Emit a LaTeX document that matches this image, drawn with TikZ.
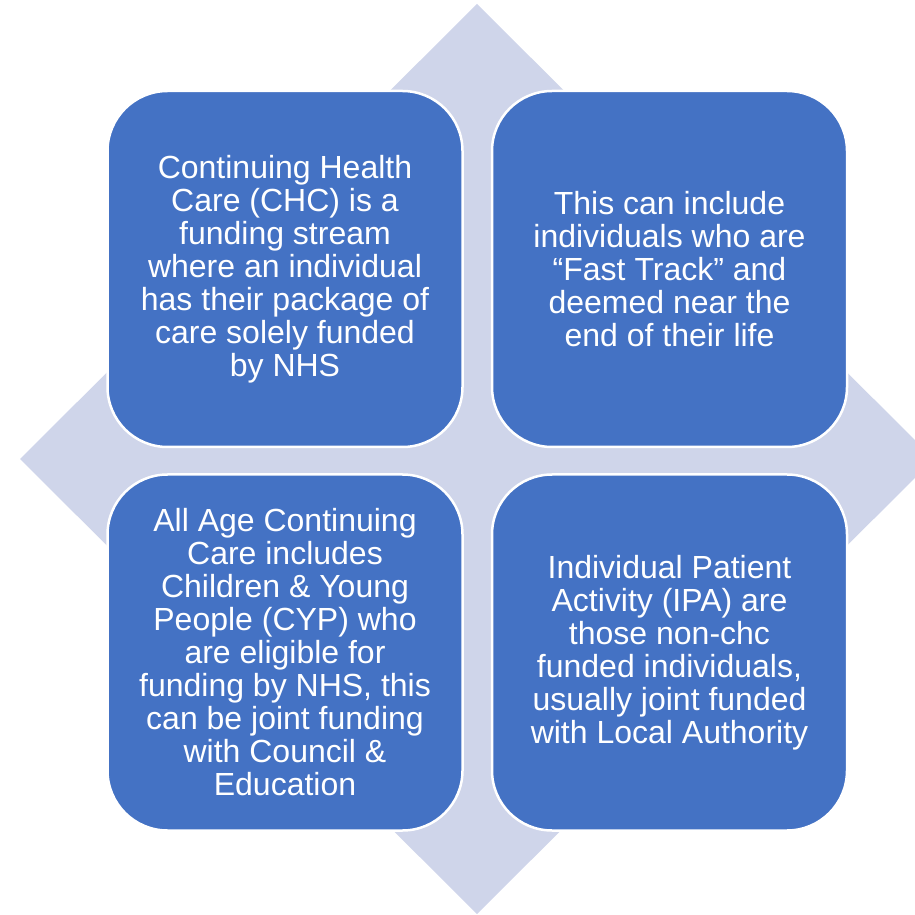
\documentclass[tikz,border=0pt]{standalone}
\usepackage{fontspec}
\setmainfont{Liberation Sans}
\usepackage{xcolor}
\definecolor{chcblue}{HTML}{4472C4}
\definecolor{chclilac}{HTML}{CFD5EA}

\begin{document}
\begin{tikzpicture}[x=1pt, y=1pt,
  card/.style = {rectangle, fill = chcblue, draw = white, line width = 2.5pt,
                 rounded corners = 60pt, minimum width = 355pt, minimum height = 356pt,
                 inner sep = 0pt, align = center, text = white,
                 font = \fontsize{32}{33}\selectfont}]
\clip (0,0) rectangle (915,914);
% background diamond
\fill[chclilac] (477,910) -- (934,455) -- (477,0) -- (20,455) -- cycle;
% the four cards
\node[card] (chc) at (285,645) {Continuing Health\\Care (CHC) is a\\funding stream\\where an individual\\has their package of\\care solely funded\\by NHS};
\node[card] (fast) at (669.5,645) {This can include\\individuals who are\\“Fast Track” and\\deemed near the\\end of their life};
\node[card] (aacc) at (285,261.5) {All Age Continuing\\Care includes\\Children \& Young\\People (CYP) who\\are eligible for\\funding by NHS, this\\can be joint funding\\with Council \&\\Education};
\node[card] (ipa) at (669.5,261.5) {Individual Patient\\Activity (IPA) are\\those non-chc\\funded individuals,\\usually joint funded\\with Local Authority};
\end{tikzpicture}
\end{document}
